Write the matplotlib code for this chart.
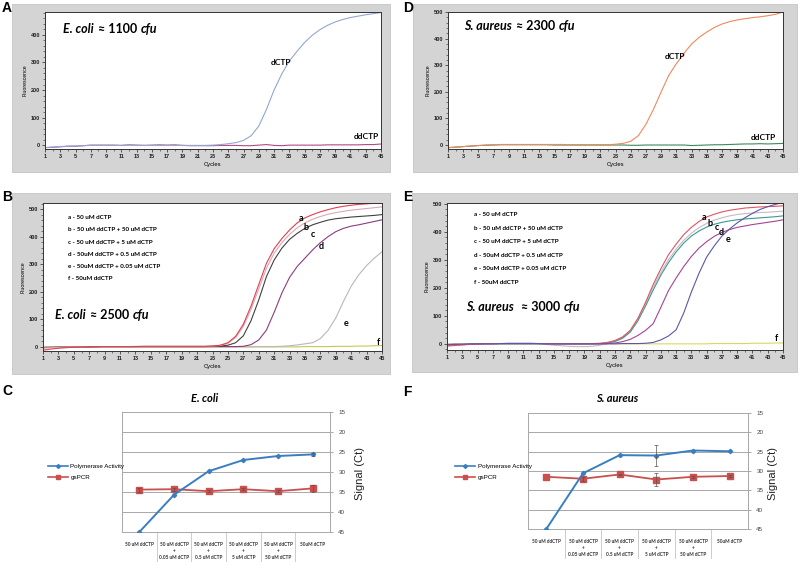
import matplotlib
matplotlib.use('Agg')
import matplotlib.pyplot as plt
from matplotlib.patches import Rectangle
from matplotlib.lines import Line2D
from matplotlib.offsetbox import TextArea, HPacker, AnchoredOffsetbox
from matplotlib.ticker import MultipleLocator, FixedLocator
import numpy as np

# ---------------- data ----------------
cycles = list(range(1, 46))

A_dctp = [-8, -6, -4, -3, -2, -1, 0, 0, 0, 0, 0, 1, 0, 0, 0, 0, 0, 0, 0, 0,
          0, 0, 1, 3, 6, 10, 18, 35, 70, 130, 200, 258, 305, 340, 372, 398, 418, 434, 446, 455,
          462, 467, 472, 476, 480]
A_ddctp = [-8, -7, -5, -3, -3, -1, 1, 1, 1, 1, 0, 2, 1, 0, 1, 2, 1, 2, 0, -1,
           -1, -1, -1, 0, 0, 0, -1, -1, 1, 3, 0, -1, 1, 1, 1, 1, 1, 2, 2, 2,
           2, 2, 3, 3, 5]

D_dctp = [-10, -8, -6, -4, -2, 0, 1, 2, 2, 2, 2, 2, 2, 2, 2, 2, 1, 1, 1, 1,
          1, 1, 3, 6, 14, 35, 78, 135, 200, 262, 306, 345, 380, 405, 425, 442, 455, 464, 470, 475,
          479, 482, 486, 491, 500]
D_ddctp = [-10, -8, -6, -4, -2, -1, 0, 1, 1, 1, 1, 1, 1, 1, 0, 0, 0, 0, 0, 0,
           0, 0, 0, 0, -1, -1, 0, 0, 0, 0, 0, 0, -2, -1, 0, 1, 1, 2, 3, 4,
           4, 5, 4, 5, 6]

B_a = [-12, -8, -5, -3, -1, 0, 1, 1, 1, 1, 1, 1, 1, 2, 2, 2, 2, 2, 2, 2, 2, 2, 3,
       6, 15, 38, 82, 148, 226, 303, 356, 393, 424, 450, 468, 480, 490, 498, 505, 510, 514, 517, 519, 521, 522]
B_b = [-4, -3, -2, -1, 0, 0, 1, 1, 1, 1, 1, 1, 2, 2, 2, 2, 2, 2, 2, 2, 2, 2, 3,
       5, 13, 33, 74, 136, 210, 285, 340, 378, 408, 432, 450, 463, 473, 481, 487, 492, 496, 499, 502, 505, 508]
B_c = [-2, -2, -1, -1, 0, 0, 0, 1, 1, 1, 1, 1, 1, 1, 1, 1, 1, 1, 1, 1, 1, 1, 2,
       3, 6, 15, 40, 95, 170, 255, 315, 358, 390, 412, 430, 443, 452, 460, 465, 468, 471, 473, 475, 477, 480]
B_d = [-3, -2, -2, -1, -1, 0, 0, 0, 1, 1, 1, 1, 1, 1, 1, 1, 1, 1, 1, 1, 1, 1, 1, 1, 1, 1,
       2, 8, 25, 61, 125, 195, 252, 292, 322, 352, 378, 400, 418, 430, 438, 443, 449, 455, 461]
B_e = [-2, -1, -1, 0, 0, 0, 0, 0, 0, 0, 0, 0, 0, 0, 0, 0, 0, 0, 0, 0,
       0, 0, 0, 0, 0, 0, 0, 0, 1, 1, 1,
       2, 4, 7, 11, 15, 30, 60, 105, 165, 220, 262, 295, 322, 345]
B_f = [0, 0, 0, 0, 0, 0, 0, 0, 0, 0, 0, 0, 0, 0, 0, 0, 0, 0, 0, 0,
       0, 0, 0, 0, 0, 0, 0, 0, 0, 0, 0, 0, 0, 0, 1, 1, 1, 1, 2, 2,
       2, 3, 3, 4, 5]

E_a = [-8, -6, -4, -2, -1, 0, 0, 1, 1, 1, 1, 1, 1, 0, 0, 0, 0, 0, 0, 1, 2,
       5, 12, 25, 48, 90, 148, 212, 268, 318, 356, 390, 416, 437, 453, 463, 471, 477, 481, 485, 487, 489, 490, 491, 493]
E_b = [-4, -3, -2, -1, 0, 0, 0, 0, 0, 0, 0, 0, 0, -2, -5, -7, -9, -10, -10, -9, -5,
       0, 8, 22, 48, 92, 145, 202, 255, 300, 338, 370, 395, 415, 430, 442, 450, 457, 462, 465, 467, 469, 470, 472, 474]
E_c = [-6, -4, -3, -2, -1, 0, 0, 0, 0, 0, 0, 0, 0, 0, 0, 0, 0, 0, 0, 0, 1,
       3, 9, 20, 42, 82, 135, 192, 245, 290, 328, 360, 385, 403, 417, 427, 434, 439, 443, 446, 448, 450, 452, 454, 457]
E_d = [-3, -2, -2, -1, 0, 1, 1, 1, 2, 2, 2, 2, 1, 0, 0, 0, 0, 0, 0, 0, 0,
       1, 3, 8, 16, 30, 48, 72, 130, 190, 235, 276, 312, 342, 365, 384, 398, 408, 416, 421, 426, 430, 434, 438, 443]
E_e = [-2, -1, -1, 0, 0, 0, 0, 1, 1, 1, 1, 1, 1, 0, 0, 0, 0, 0, 0, 0, 0, 0, 0, 1, 1, 1,
       2, 5, 14, 28, 50, 110, 185, 252, 310, 350, 385, 410, 432, 450, 466, 480, 490, 498, 505]
E_f = [-1, -1, 0, 0, 0, 0, 0, 0, 0, 0, 0, 0, 0, 0, 0, 0, 0, 0, 0, 0,
       0, 0, 0, 0, 0, 0, 0, 0, 0, 0, 0, 0, 0, 0, 0, 1, 1, 1, 1, 1,
       2, 2, 2, 3, 3]

B_legend = ['a - 50 uM dCTP', 'b - 50 uM ddCTP + 50 uM dCTP', 'c - 50 uM ddCTP + 5 uM dCTP',
            'd - 50uM ddCTP + 0.5 uM dCTP', 'e - 50uM ddCTP + 0.05 uM dCTP', 'f - 50uM ddCTP']

categories = ['50 uM ddCTP', '50 uM ddCTP\n+\n0.05 uM dCTP', '50 uM ddCTP\n+\n0.5 uM dCTP',
              '50 uM ddCTP\n+\n5 uM dCTP', '50 uM ddCTP\n+\n50 uM dCTP', '50uM dCTP']
C_pol = [45.0, 35.7, 29.8, 27.0, 26.0, 25.6]
C_pol_err = [0, 0, 0, 0, 0, 0.3]
C_gs = [34.4, 34.3, 34.8, 34.3, 34.8, 34.1]
C_gs_err = [0.5, 0.4, 0.2, 0.2, 0.2, 0.8]
F_pol = [45.0, 30.6, 25.9, 26.0, 24.7, 24.9]
F_pol_err = [0, 0, 0, 2.7, 0, 0]
F_gs = [31.5, 32.0, 30.9, 32.2, 31.5, 31.3]
F_gs_err = [0, 0.5, 0.2, 1.6, 0.2, 0.2]
ct_ticks = [15, 20, 25, 30, 35, 40, 45]

# ---------------- layout helpers ----------------
W, H = 800, 565
plt.rcParams['font.family'] = ['Liberation Sans', 'DejaVu Sans']
fig = plt.figure(figsize=(8, 5.65), dpi=100)


def fx(x):
    return x / W


def fy(y):
    return 1 - y / H


def px_axes(x0, y0, x1, y1):
    return fig.add_axes([fx(x0), fy(y1), (x1 - x0) / W, (y1 - y0) / H])


def gray_box(x0, y0, x1, y1):
    fig.add_artist(Rectangle((fx(x0), fy(y1)), (x1 - x0) / W, (y1 - y0) / H,
                             transform=fig.transFigure, facecolor='#d4d4d4',
                             edgecolor='#c4c4c4', lw=0.6, zorder=-5))


def rich_label(ax, parts, x, y, size=9):
    kids = []
    for txt, italic in parts:
        kids.append(TextArea(txt, textprops=dict(fontsize=size, fontweight='bold',
                                                 style='italic' if italic else 'normal',
                                                 family=['Lato', 'DejaVu Sans'], color='black')))
    pack = HPacker(children=kids, align='baseline', pad=0, sep=2.8)
    box = AnchoredOffsetbox(loc='center left', child=pack, bbox_to_anchor=(fx(x), fy(y)),
                            bbox_transform=fig.transFigure, frameon=False, pad=0, borderpad=0)
    ax.add_artist(box)


def amp_axes(box, axbox, ylim, ymaxtick):
    gray_box(*box)
    ax = px_axes(*axbox)
    ax.set_xlim(1, 45)
    ax.set_ylim(*ylim)
    ax.xaxis.set_major_locator(FixedLocator(list(range(1, 46, 2))))
    ax.xaxis.set_minor_locator(MultipleLocator(1))
    ax.yaxis.set_major_locator(FixedLocator(list(range(0, ymaxtick + 1, 100))))
    ax.yaxis.set_minor_locator(MultipleLocator(20))
    ax.tick_params(which='major', labelsize=4, length=2, width=0.5, pad=1.5, colors='#222222')
    ax.tick_params(which='minor', length=1.2, width=0.4, colors='#222222')
    for lab in ax.get_xticklabels() + ax.get_yticklabels():
        lab.set_fontweight('bold')
    for s in ax.spines.values():
        s.set_linewidth(0.7)
        s.set_color('#333333')
    ax.set_xlabel('Cycles', fontsize=4.2, labelpad=2)
    ax.set_ylabel('Fluorescence', fontsize=3.8, labelpad=2)
    return ax


# ---------------- panel A ----------------
axA = amp_axes((12, 4, 390, 172), (45, 12, 381, 149), (-13, 482), 400)
axA.plot(cycles, A_ddctp, color='#b24a88', lw=0.8)
axA.plot(cycles, A_dctp, color='#92a8d2', lw=0.8)
axA.text(31.9, 299, 'dCTP', fontsize=6, fontweight='bold', ha='center', va='center', family=['Lato', 'DejaVu Sans'])
axA.text(43.1, 31, 'ddCTP', fontsize=6, fontweight='bold', ha='center', va='center', family=['Lato', 'DejaVu Sans'])
rich_label(axA, [('E. coli', True), ('≈ 1100', False), ('cfu', True)], 63, 29)

# ---------------- panel D ----------------
axD = amp_axes((413, 4, 797, 172), (448, 12, 783, 149), (-15, 500), 500)
axD.plot(cycles, D_ddctp, color='#3a8a5a', lw=0.8)
axD.plot(cycles, D_dctp, color='#f0895e', lw=0.8)
axD.text(30.8, 331, 'dCTP', fontsize=6, fontweight='bold', ha='center', va='center', family=['Lato', 'DejaVu Sans'])
axD.text(42.4, 27, 'ddCTP', fontsize=6, fontweight='bold', ha='center', va='center', family=['Lato', 'DejaVu Sans'])
rich_label(axD, [('S. aureus', True), ('≈ 2300', False), ('cfu', True)], 464, 26)

# ---------------- panel B ----------------
axB = amp_axes((12, 193, 390, 374), (43, 203, 382, 351), (-15, 522), 500)
B_series = [B_f, B_e, B_d, B_c, B_b, B_a]
B_colors = ['#c8c850', '#b8b8b8', '#8c3c80', '#404040', '#dba7b8', '#e2404f']
for ser, col in zip(B_series, B_colors):
    axB.plot(cycles, ser, color=col, lw=0.8)
for lab, (cx, cy) in zip('abcdef', [(34.5, 465), (35.2, 433), (36.0, 407), (37.1, 364), (40.3, 83), (44.5, 15)]):
    axB.text(cx, cy, lab, fontsize=6.5, ha='center', va='center', family=['Lato', 'DejaVu Sans'], fontweight='bold')
for i, t in enumerate(B_legend):
    fig.text(fx(68), fy(217.7 + i * 12.2), t, fontsize=4.5, fontweight='bold', va='center',
             family=['Lato', 'DejaVu Sans'])
rich_label(axB, [('E. coli', True), ('≈ 2500', False), ('cfu', True)], 55, 315)

# ---------------- panel E ----------------
axE = amp_axes((412, 193, 797, 372), (447, 203, 783, 350), (-22, 503), 500)
E_series = [E_f, E_b, E_c, E_d, E_a, E_e]
E_colors = ['#d8d860', '#c6b9c6', '#3a9a8c', '#a44494', '#e25464', '#5a58a8']
for ser, col in zip(E_series, E_colors):
    axE.plot(cycles, ser, color=col, lw=0.8)
for lab, (cx, cy) in zip('abcdef', [(34.6, 452), (35.4, 431), (36.3, 417), (36.9, 399), (37.8, 371), (44.1, 18)]):
    axE.text(cx, cy, lab, fontsize=6.5, ha='center', va='center', family=['Lato', 'DejaVu Sans'], fontweight='bold')
for i, t in enumerate(B_legend):
    fig.text(fx(474), fy(215 + i * 13.4), t, fontsize=4.5, fontweight='bold', va='center',
             family=['Lato', 'DejaVu Sans'])
rich_label(axE, [('S. aureus', True), (' ≈ 3000', False), ('cfu', True)], 466, 307)


# ---------------- panels C and F ----------------
def ct_panel(axbox, pol, pol_err, gs, gs_err, title, title_x, sig_x, leg_x):
    ax = px_axes(*axbox)
    x = np.arange(len(categories))
    ax.set_xlim(-0.5, len(categories) - 0.5)
    ax.set_ylim(45, 15)
    ax.set_yticks(ct_ticks)
    ax.yaxis.tick_right()
    ax.tick_params(axis='y', labelsize=4.5, length=2, width=0.5, colors='#888888', labelcolor='#444444', pad=4)
    ax.set_xticks([])
    ax.grid(axis='y', color='#a8a8a8', lw=0.7)
    ax.set_axisbelow(True)
    ax.spines['top'].set_visible(False)
    for s in ['left', 'right', 'bottom']:
        ax.spines[s].set_color('#a8a8a8')
        ax.spines[s].set_linewidth(0.7)
    pol_c, gs_c = '#3b7ec0', '#c9504d'
    ax.plot(x, gs, color=gs_c, lw=1.3, marker='s', ms=3.8, zorder=3)
    ax.plot(x, pol, color=pol_c, lw=1.4, marker='D', ms=2.2, zorder=4)
    for xi, v, e in zip(x, gs, gs_err):
        if e > 0:
            ax.errorbar(xi, v, yerr=e, color='#555555', elinewidth=0.5, capsize=1.5, capthick=0.5, zorder=5)
    for xi, v, e in zip(x, pol, pol_err):
        if e > 0:
            ax.errorbar(xi, v, yerr=e, color='#555555', elinewidth=0.5, capsize=1.5, capthick=0.5, zorder=5)
    tr = ax.get_xaxis_transform()
    h = axbox[3] - axbox[1]
    for b in np.arange(0.5, len(categories) - 1, 1.0):
        ax.plot([b, b], [0, -29 / h], transform=tr, clip_on=False, color='#c4c4c4', lw=0.6)
    for xi, lab in zip(x, categories):
        ax.text(xi, -10 / h, lab, transform=tr, ha='center', va='top', fontsize=3.4,
                color='#333333', linespacing=1.35, family=['Lato', 'DejaVu Sans'], fontweight='bold')
    fig.text(fx(title_x), fy(399), title, fontsize=8, fontweight='bold', style='italic',
             ha='center', va='center', family=['Lato', 'DejaVu Sans'])
    fig.text(fx(sig_x), fy(474), 'Signal (Ct)', fontsize=8, rotation=90, ha='center', va='center',
             color='#222222')
    handles = [Line2D([], [], color=pol_c, lw=1.2, marker='D', ms=2),
               Line2D([], [], color=gs_c, lw=1.2, marker='s', ms=3.2)]
    fig.legend(handles, ['Polymerase Activity', 'gsPCR'], loc='center left',
               bbox_to_anchor=(fx(leg_x), fy(472)), frameon=False, fontsize=4.5,
               handlelength=3.2, labelspacing=1.0, borderaxespad=0, borderpad=0, handletextpad=0.4)
    return ax


ct_panel((122, 412, 330, 532), C_pol, C_pol_err, C_gs, C_gs_err, 'E. coli', 205, 360, 48)
ct_panel((528, 413, 748, 529), F_pol, F_pol_err, F_gs, F_gs_err, 'S. aureus', 617, 773, 455)

# ---------------- panel letters ----------------
for lab, (px, py) in zip('ADBECF', [(7, 8), (408, 8), (7, 197), (408, 197), (7, 391), (407, 392)]):
    fig.text(fx(px), fy(py), lab, fontsize=10, fontweight='bold', ha='center', va='center')

fig.savefig('out.png', dpi=100)
